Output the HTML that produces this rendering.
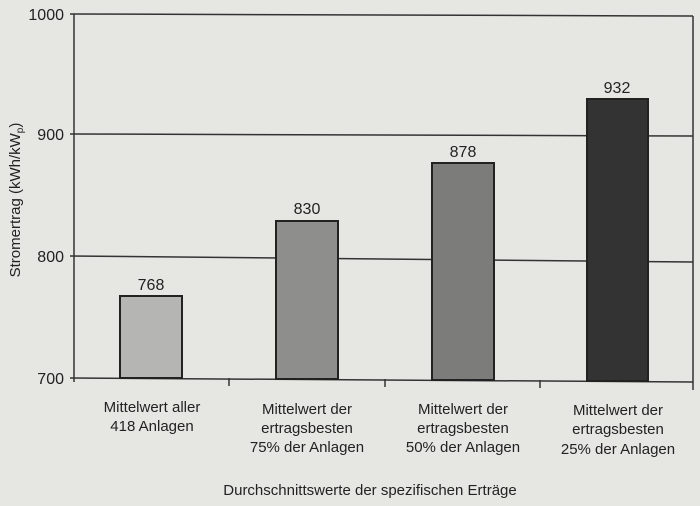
<!DOCTYPE html>
<html><head><meta charset="utf-8"><style>
html,body{margin:0;padding:0;background:#e6e6e3;}
svg{display:block;}
text{font-family:"Liberation Sans",sans-serif;fill:#222;}
</style></head><body>
<svg width="700" height="506" viewBox="0 0 700 506" xmlns="http://www.w3.org/2000/svg">
<rect width="700" height="506" fill="#e6e6e3"/>
<g stroke="#333" stroke-width="1.5">
<line x1="70" y1="14" x2="693" y2="16"/>
<line x1="70" y1="134" x2="693" y2="136"/>
<line x1="70" y1="256" x2="693" y2="262"/>
<line x1="70" y1="378" x2="693" y2="382"/>
<line x1="74" y1="14" x2="74" y2="382"/>
<line x1="693" y1="16" x2="693" y2="390"/>
<line x1="229" y1="378" x2="229" y2="386"/>
<line x1="385" y1="379" x2="385" y2="387"/>
<line x1="540" y1="380" x2="540" y2="388"/>
</g>
<rect x="120" y="296" width="62" height="82" fill="#b5b5b3" stroke="#222" stroke-width="2"/>
<rect x="276" y="221" width="62" height="158" fill="#8e8e8c" stroke="#222" stroke-width="2"/>
<rect x="432" y="163" width="62" height="217" fill="#7c7c7a" stroke="#222" stroke-width="2"/>
<rect x="587" y="99" width="61" height="282" fill="#333" stroke="#222" stroke-width="2"/>
<g font-size="16" text-anchor="middle">
<text x="151" y="290">768</text>
<text x="307" y="214">830</text>
<text x="463" y="157">878</text>
<text x="617" y="93">932</text>
</g>
<g font-size="16" text-anchor="end">
<text x="64" y="20">1000</text>
<text x="64" y="140">900</text>
<text x="64" y="262">800</text>
<text x="64" y="384">700</text>
</g>
<text transform="translate(20,200) rotate(-90)" font-size="15" text-anchor="middle">Stromertrag (kWh/kW<tspan font-size="10" dy="3">p</tspan><tspan dy="-3">)</tspan></text>
<g font-size="15" text-anchor="middle">
<text x="152" y="412">Mittelwert aller</text>
<text x="152" y="431">418 Anlagen</text>
<text x="307" y="414">Mittelwert der</text>
<text x="307" y="433">ertragsbesten</text>
<text x="307" y="452">75% der Anlagen</text>
<text x="463" y="414">Mittelwert der</text>
<text x="463" y="433">ertragsbesten</text>
<text x="463" y="452">50% der Anlagen</text>
<text x="618" y="415">Mittelwert der</text>
<text x="618" y="434">ertragsbesten</text>
<text x="618" y="454">25% der Anlagen</text>
<text x="370" y="495">Durchschnittswerte der spezifischen Erträge</text>
</g>
</svg>
</body></html>
